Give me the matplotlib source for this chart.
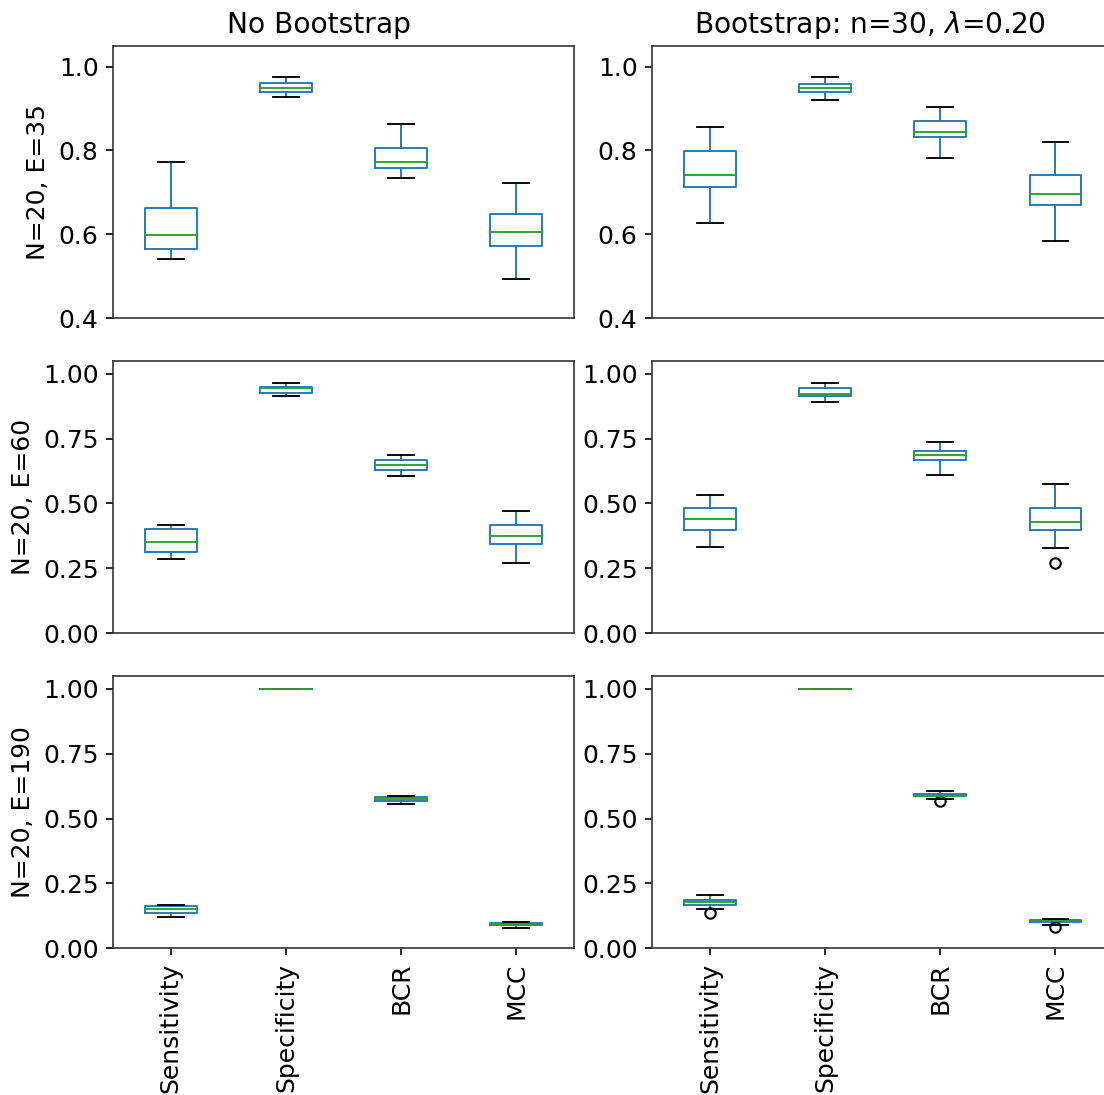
import matplotlib
matplotlib.use('Agg')
import matplotlib.pyplot as plt

metrics = ['Sensitivity', 'Specificity', 'BCR', 'MCC']
row_labels = ['N=20, E=35', 'N=20, E=60', 'N=20, E=190']
col_titles = ['No Bootstrap', r'Bootstrap: n=30, $\lambda$=0.20']

# per metric: whisker low, q1, median, q3, whisker high
nb_e35 = [[0.542, 0.564, 0.599, 0.662, 0.772],
          [0.927, 0.939, 0.950, 0.962, 0.976],
          [0.735, 0.757, 0.772, 0.806, 0.863],
          [0.493, 0.571, 0.606, 0.649, 0.723]]
bs_e35 = [[0.626, 0.712, 0.742, 0.799, 0.855],
          [0.920, 0.939, 0.950, 0.958, 0.976],
          [0.783, 0.832, 0.844, 0.871, 0.904],
          [0.583, 0.670, 0.697, 0.742, 0.821]]
nb_e60 = [[0.284, 0.314, 0.350, 0.400, 0.417],
          [0.914, 0.924, 0.945, 0.950, 0.963],
          [0.604, 0.629, 0.648, 0.666, 0.685],
          [0.271, 0.343, 0.375, 0.417, 0.472]]
bs_e60 = [[0.333, 0.398, 0.442, 0.483, 0.531],
          [0.890, 0.914, 0.921, 0.945, 0.963],
          [0.611, 0.666, 0.685, 0.702, 0.738],
          [0.327, 0.398, 0.430, 0.483, 0.575]]
nb_e190 = [[0.119, 0.137, 0.151, 0.163, 0.168],
           [1.0, 1.0, 1.0, 1.0, 1.0],
           [0.556, 0.568, 0.575, 0.582, 0.587],
           [0.077, 0.088, 0.093, 0.096, 0.102]]
bs_e190 = [[0.151, 0.167, 0.179, 0.187, 0.204],
           [1.0, 1.0, 1.0, 1.0, 1.0],
           [0.575, 0.585, 0.588, 0.5935, 0.605],
           [0.090, 0.100, 0.104, 0.108, 0.113]]

# outliers per metric
no_fliers = [[], [], [], []]
bs_e60_fliers = [[], [], [], [0.270]]
bs_e190_fliers = [[0.135], [], [0.569], [0.083]]

panels = [[(nb_e35, no_fliers), (bs_e35, no_fliers)],
          [(nb_e60, no_fliers), (bs_e60, bs_e60_fliers)],
          [(nb_e190, no_fliers), (bs_e190, bs_e190_fliers)]]

plt.rcParams['font.size'] = 12


def make_stats(summ, fl):
    out = []
    for s, f, name in zip(summ, fl, metrics):
        out.append({'whislo': s[0], 'q1': s[1], 'med': s[2], 'q3': s[3],
                    'whishi': s[4], 'fliers': f, 'label': name})
    return out


fig, axes = plt.subplots(3, 2, figsize=(1104 / 150, 1095 / 150), dpi=150)
fig.subplots_adjust(left=0.1026, right=1.0082, bottom=0.134, top=0.9583,
                    wspace=0.170, hspace=0.1565)

title_x = [0.447, 0.473]

for i in range(3):
    for j in range(2):
        ax = axes[i, j]
        summ, fl = panels[i][j]
        ax.bxp(make_stats(summ, fl), widths=0.45,
               boxprops=dict(color='C0', linewidth=0.9),
               whiskerprops=dict(color='C0', linewidth=0.9),
               capprops=dict(color='k', linewidth=0.9),
               medianprops=dict(color='C2', linewidth=0.9),
               flierprops=dict(marker='o', markersize=5, markerfacecolor='none',
                               markeredgecolor='k'))
        if i == 0:
            ax.set_ylim(0.4, 1.05)
            ax.set_yticks([0.4, 0.6, 0.8, 1.0])
            ax.set_title(col_titles[j], fontsize=13.5, x=title_x[j])
        else:
            ax.set_ylim(0, 1.05)
            ax.set_yticks([0, 0.25, 0.5, 0.75, 1.0])
        ax.set_xlim(0.5, 4.5)
        if i < 2:
            ax.tick_params(bottom=False, labelbottom=False)
        else:
            ax.set_xticks([1, 2, 3, 4])
            ax.set_xticklabels(metrics, rotation=90)
        if j == 0:
            ax.set_ylabel(row_labels[i])
        for sp in ax.spines.values():
            sp.set_color('#333333')

fig.savefig('out.png', dpi=150)
